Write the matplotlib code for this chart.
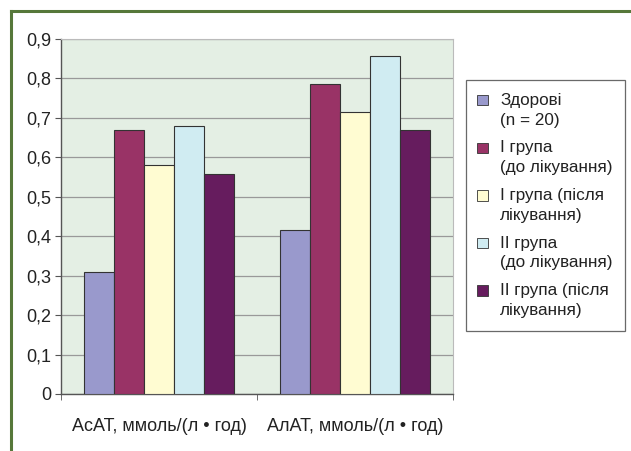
import numpy as np
import matplotlib.pyplot as plt
import matplotlib.patches as mpatches
from matplotlib.lines import Line2D
from matplotlib.legend_handler import HandlerPatch
from matplotlib.ticker import FuncFormatter

plt.rcParams['font.family'] = ['Liberation Sans', 'DejaVu Sans']

# ферменти та групи
categories = ['АсАТ, ммоль/(л • год)', 'АлАТ, ммоль/(л • год)']
groups = ['Здорові\n(n = 20)', 'I група\n(до лікування)', 'I група (після\nлікування)',
          'II група\n(до лікування)', 'II група (після\nлікування)']
values = [
    [0.31, 0.415],   # Здорові
    [0.67, 0.787],   # I група до
    [0.58, 0.716],   # I група після
    [0.68, 0.856],   # II група до
    [0.557, 0.67],   # II група після
]
colors = ['#9999CC', '#993366', '#FFFCD2', '#D0ECF2', '#661C5E']

LEG_FS = 12.3
LEG_LS = 1.4


def square_first_line(legend, orig_handle, xdescent, ydescent, width, height, fontsize):
    # квадратик навпроти першого рядка підпису
    side = 0.62 * fontsize
    off = 0.42 * fontsize * LEG_LS
    return mpatches.Rectangle((-xdescent + (width - side) / 2 - 3,
                               -ydescent + (height - side) / 2 + off), side, side)


fig = plt.figure(figsize=(6.31, 4.51), dpi=100)
ax = fig.add_axes([0.0967, 0.1264, 0.621, 0.787])
ax.set_facecolor('#E4EFE4')

x = np.arange(len(categories)) + 0.5
width = 0.153
for i, (vals, c) in enumerate(zip(values, colors)):
    ax.bar(x + (i - 2) * width, vals, width, color=c, edgecolor='#333333',
           linewidth=0.8, zorder=3, label=groups[i])

ax.set_xlim(0, 2)
ax.set_ylim(0, 0.9)
ax.set_yticks(np.arange(0, 0.91, 0.1))
ax.yaxis.set_major_formatter(FuncFormatter(lambda v, p: '0' if v == 0 else f'{v:.1f}'.replace('.', ',')))
ax.yaxis.grid(True, color='#999999', linewidth=0.9, zorder=1)
ax.set_xticks(x)
ax.set_xticklabels(categories)
ax.set_xticks([0, 1, 2], minor=True)
ax.tick_params(axis='x', which='major', length=0, pad=17, labelsize=13, labelcolor='#222222')
ax.tick_params(axis='x', which='minor', length=4, color='#555555')
ax.tick_params(axis='y', length=4, color='#555555', labelsize=13, pad=3, labelcolor='#222222')

for side in ['left', 'bottom']:
    ax.spines[side].set_color('#555555')
    ax.spines[side].set_linewidth(1.0)
for side in ['top', 'right']:
    ax.spines[side].set_color('#BBBBBB')
    ax.spines[side].set_linewidth(0.8)

handles = [mpatches.Patch(facecolor=c, edgecolor='#333333', linewidth=0.6) for c in colors]
leg = fig.legend(handles, groups, loc='upper left', bbox_to_anchor=(0.7385, 0.8226),
                 borderaxespad=0, frameon=True, fancybox=False, fontsize=LEG_FS,
                 handlelength=0.9, handletextpad=0.35, labelspacing=0.75, borderpad=0.75,
                 handler_map={mpatches.Patch: HandlerPatch(patch_func=square_first_line)})
leg.get_frame().set_edgecolor('#444444')
leg.get_frame().set_linewidth(0.9)
for t in leg.get_texts():
    t.set_color('#222222')
    t.set_linespacing(LEG_LS)

# зелена рамка зліва та зверху
fig.add_artist(Line2D([0.0167, 0.0167], [0, 0.975], transform=fig.transFigure,
                      color='#56783A', linewidth=2.2))
fig.add_artist(Line2D([0.0167, 1.0], [0.975, 0.975], transform=fig.transFigure,
                      color='#56783A', linewidth=2.2))

fig.savefig('out.png', dpi=100)
